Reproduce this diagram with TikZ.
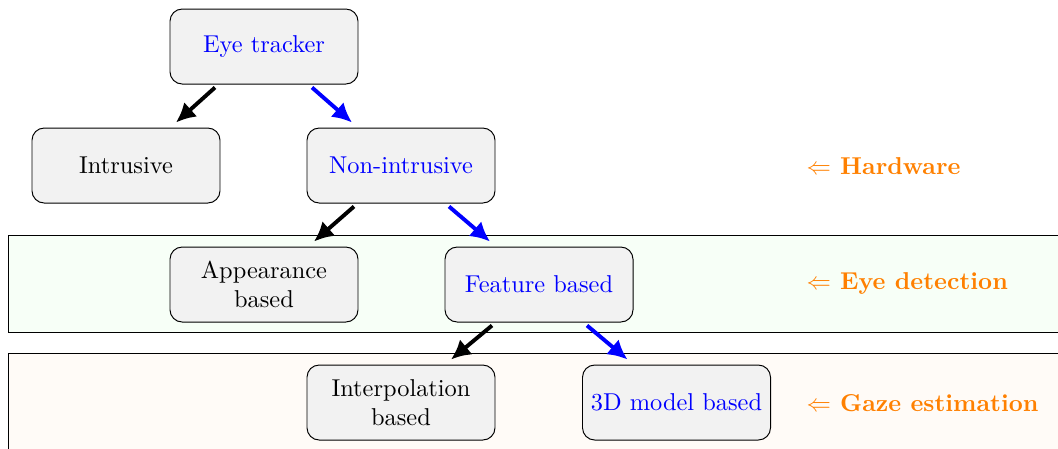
\documentclass[tikz,border=0pt]{standalone}
\usetikzlibrary{arrows.meta,calc}
\begin{document}
\begin{tikzpicture}[x=0.41pt,y=-0.41pt,
  box/.style={draw=black,fill=gray!10,rounded corners=5pt,minimum width=188*0.41pt,minimum height=75*0.41pt,align=center,inner sep=0pt},
  sel/.style={text=blue},
  arr/.style={-{Latex[length=8pt,width=8pt]},line width=1.6pt,black},
  barr/.style={arr,blue},
  lab/.style={anchor=west,text=orange,font=\bfseries,inner sep=0pt},
  band/.style={draw=black,line width=0.4pt}]
\useasboundingbox (0,0) rectangle (1058,448);
\draw[band,fill=green!3] (8,235) rectangle (1070,332);
\draw[band,fill=orange!3] (8,353) rectangle (1070,460);
\node[box,sel] (et) at (264,46.5) {Eye tracker};
\node[box] (in) at (126,165.5) {Intrusive};
\node[box,sel] (ni) at (401,165.5) {Non-intrusive};
\node[box] (ab) at (264,284.5) {Appearance\\based};
\node[box,sel] (fb) at (539,284.5) {Feature based};
\node[box] (ib) at (401,402.5) {Interpolation\\based};
\node[box,sel] (md) at (676.5,402.5) {3D model based};
\draw[arr] ($(et.south)+(-49,3)$) -- ($(in.north)+(50,-5)$);
\draw[barr] ($(et.south)+(48,3)$) -- ($(ni.north)+(-49,-5)$);
\draw[arr] ($(ni.south)+(-47,3)$) -- ($(ab.north)+(50,-5)$);
\draw[barr] ($(ni.south)+(48,3)$) -- ($(fb.north)+(-49,-5)$);
\draw[arr] ($(fb.south)+(-47,3)$) -- ($(ib.north)+(50,-5)$);
\draw[barr] ($(fb.south)+(48,3)$) -- ($(md.north)+(-49,-5)$);
\node[lab] (h) at (806,166) {$\Leftarrow$ Hardware};
\node[lab] (e) at (806,283) {$\Leftarrow$ Eye detection};
\node[lab] (g) at (806,403) {$\Leftarrow$ Gaze estimation};
\end{tikzpicture}
\end{document}
